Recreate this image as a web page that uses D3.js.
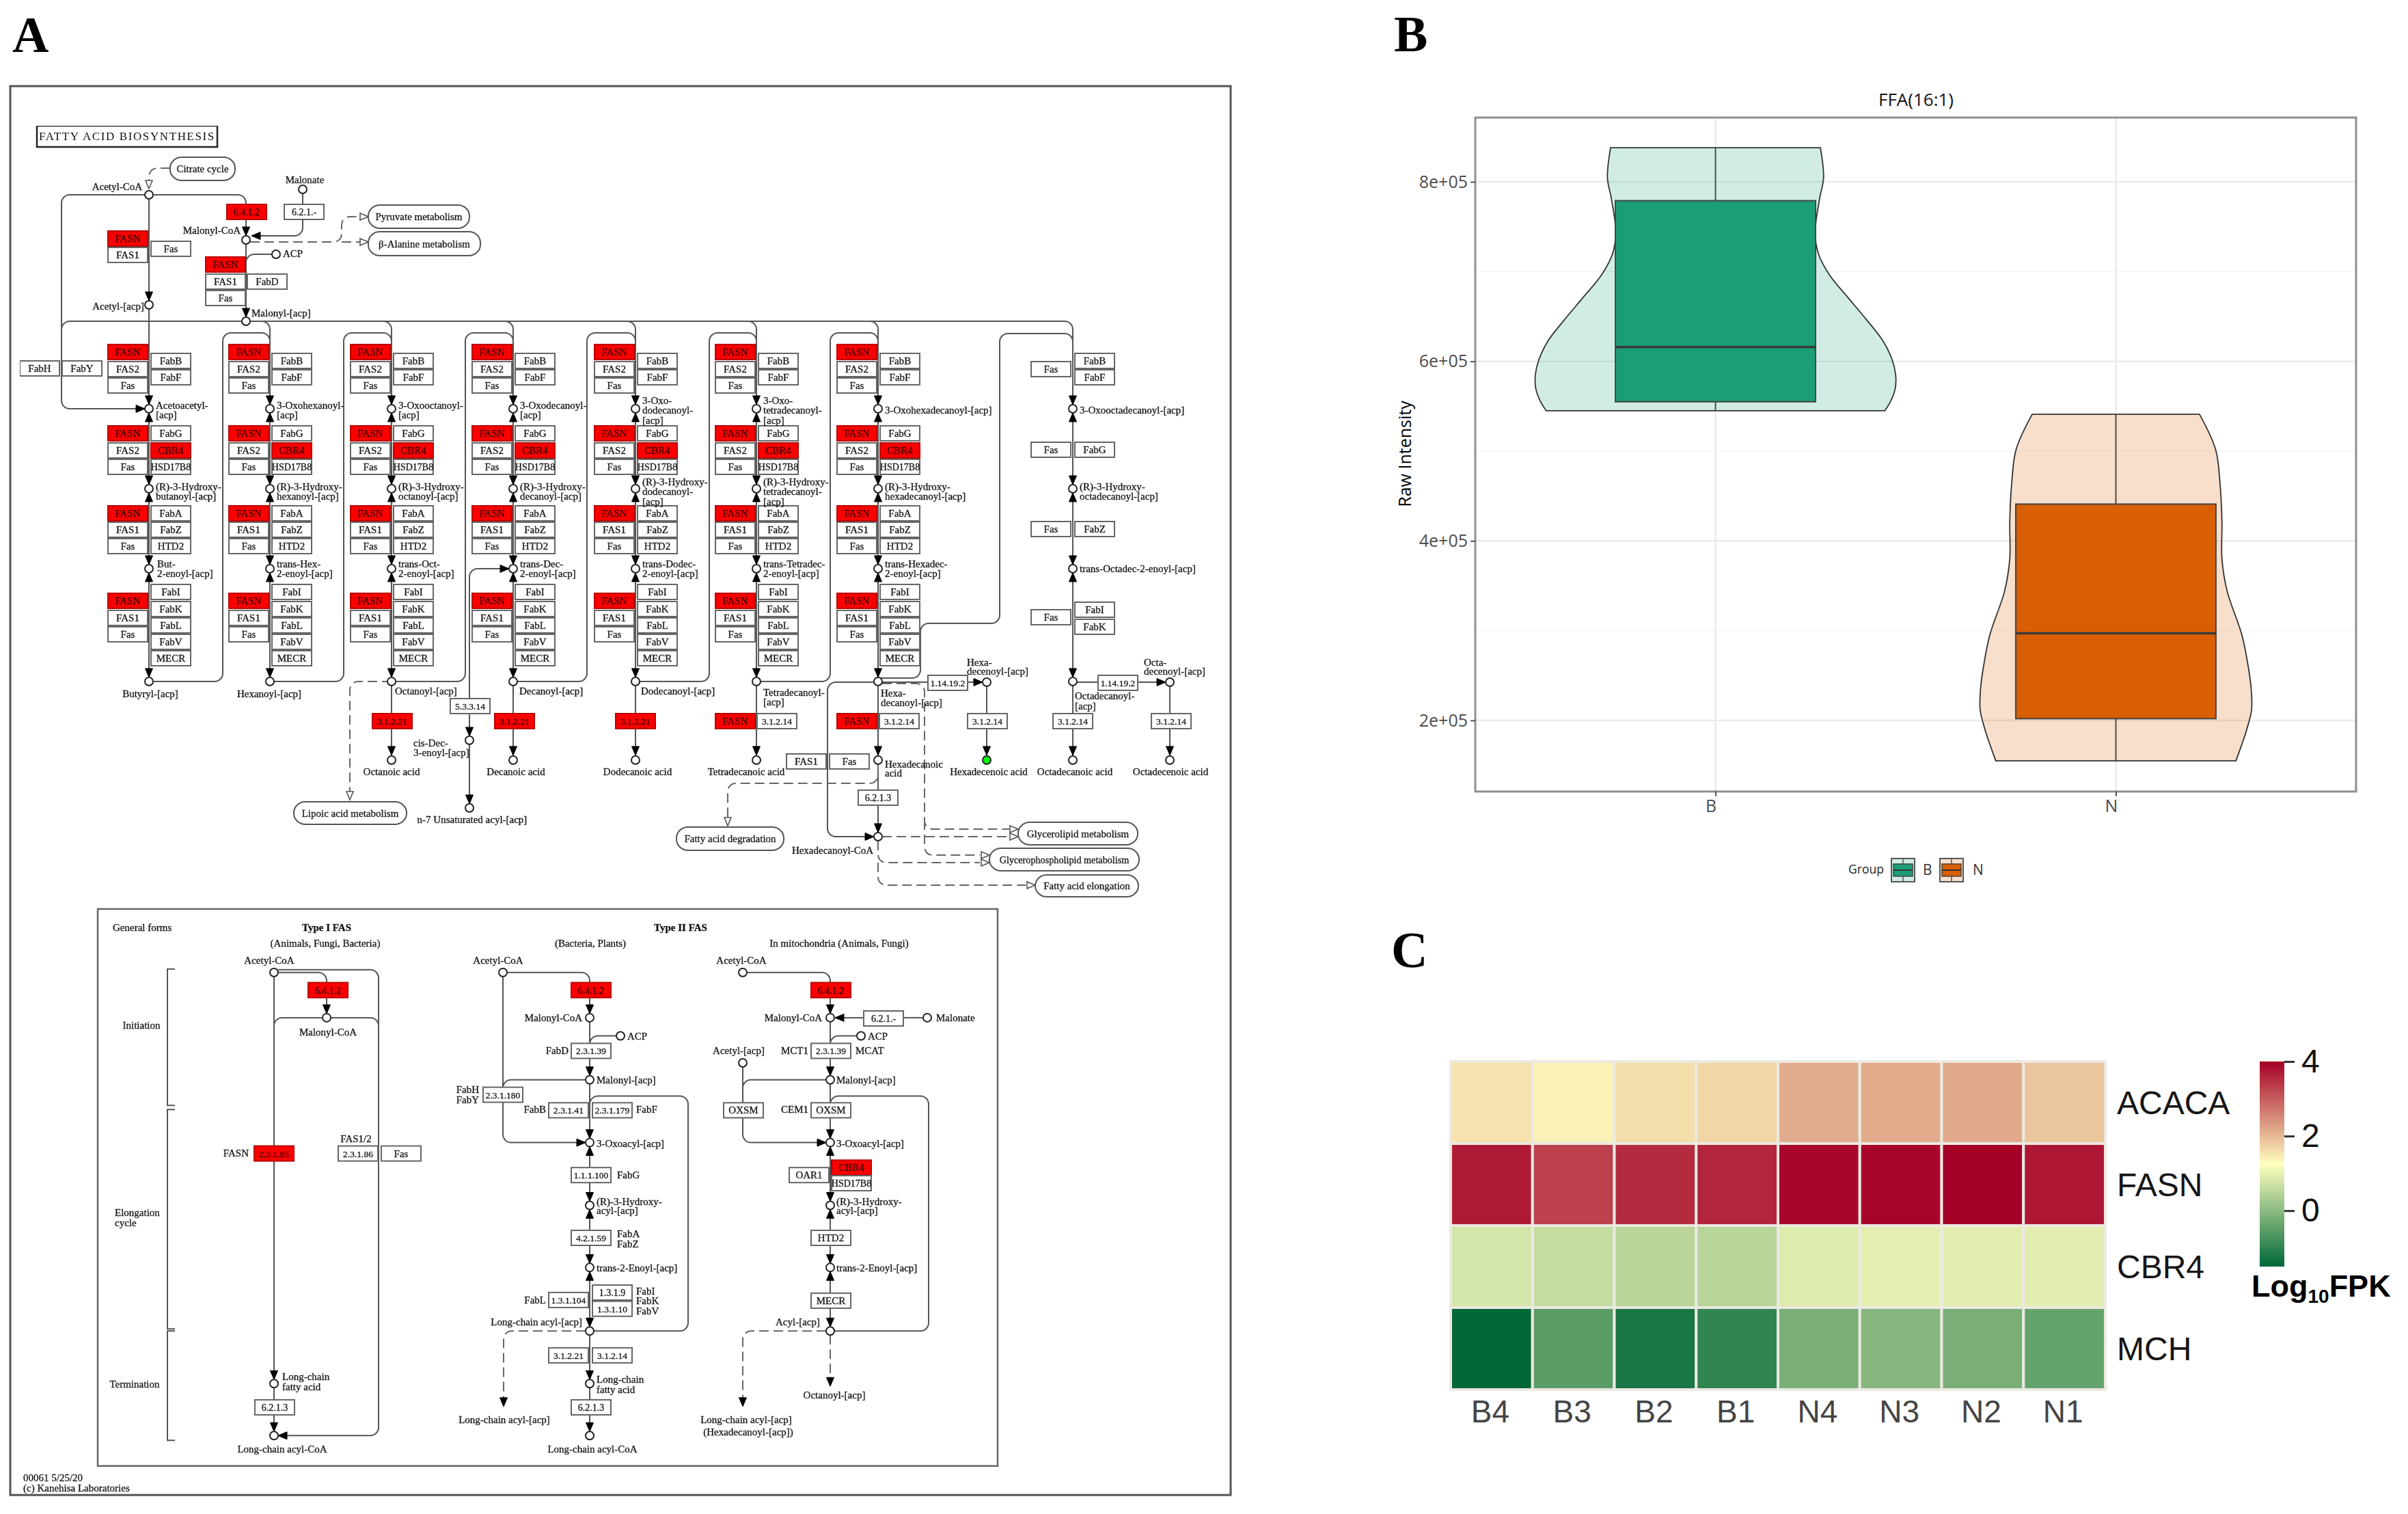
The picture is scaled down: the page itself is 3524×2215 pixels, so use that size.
<!DOCTYPE html>
<html><head><meta charset="utf-8">
<script src="https://cdn.jsdelivr.net/npm/d3@7"></script>
<style>html,body{margin:0;padding:0;background:#fff}svg{display:block}</style>
</head><body><svg id="fig" width="3524" height="2215" viewBox="0 0 3524 2215"></svg>
<script>
/* ---------- Panel C data ---------- */
const heatSamples = ["B4","B3","B2","B1","N4","N3","N2","N1"];
const heatGenes = ["ACACA","FASN","CBR4","MCH"];
const acacaValues = [1.56,1.40,1.62,1.68,2.13,2.14,2.17,1.86];
const fasnValues = [3.72,3.30,3.54,3.60,3.92,3.95,4.00,3.75];
const cbr4Values = [0.78,0.63,0.49,0.48,0.88,0.96,0.94,0.94];
const mchValues = [-1.50,-0.53,-1.22,-0.97,-0.18,-0.06,-0.20,-0.43];
const heatTicks = [0,2,4];

/* ---------- Panel B data ---------- */
const groups = ["B","N"];
const groupColors = ["#1b9e77","#d95f02"];
const intensityTicks = [2e5,4e5,6e5,8e5];
const intensityMinor = [3e5,5e5,7e5];
const violinB = [[8.38,.262],[8.05,.270],[7.81,.260],[7.44,.249],[7.20,.257],[6.96,.285],[6.71,.331],[6.47,.376],[6.23,.418],[6.02,.441],[5.85,.450],[5.70,.449],[5.56,.438],[5.45,.423]];
const violinN = [[5.41,.209],[5.02,.249],[4.65,.260],[4.22,.265],[3.80,.265],[3.44,.278],[2.95,.315],[2.59,.331],[2.35,.338],[2.12,.339],[1.90,.327],[1.70,.312],[1.55,.300]];
const boxStats = [{lo:5.45,q1:5.55,med:6.16,q3:7.79,hi:8.38},{lo:1.55,q1:2.02,med:2.97,q3:4.41,hi:5.41}];

/* ---------- Panel A data (pathway map units) ---------- */
const spines = [218,395,573,751,930,1107,1285];
const lastSpine = 1570;
const condL = [["FASN",504,1],["FAS2",529],["Fas",553]];
const condR = [["FabB",517],["FabF",541]];
const redL = [["FASN",623,1],["FAS2",648],["Fas",672]];
const redR = [["FabG",623],["CBR4",648,1],["HSD17B8",672]];
const dehL = [["FASN",740,1],["FAS1",764],["Fas",788]];
const dehR = [["FabA",740],["FabZ",764],["HTD2",788]];
const enoL = [["FASN",868,1],["FAS1",893],["Fas",917]];
const enoR = [["FabI",855],["FabK",880],["FabL",904],["FabV",928],["MECR",952]];
const oxoNames = [["Acetoacetyl-","[acp]"],["3-Oxohexanoyl-","[acp]"],["3-Oxooctanoyl-","[acp]"],["3-Oxodecanoyl-","[acp]"],["3-Oxo-","dodecanoyl-","[acp]"],["3-Oxo-","tetradecanoyl-","[acp]"],["3-Oxohexadecanoyl-[acp]"],["3-Oxooctadecanoyl-[acp]"]];
const hydNames = [["(R)-3-Hydroxy-","butanoyl-[acp]"],["(R)-3-Hydroxy-","hexanoyl-[acp]"],["(R)-3-Hydroxy-","octanoyl-[acp]"],["(R)-3-Hydroxy-","decanoyl-[acp]"],["(R)-3-Hydroxy-","dodecanoyl-","[acp]"],["(R)-3-Hydroxy-","tetradecanoyl-","[acp]"],["(R)-3-Hydroxy-","hexadecanoyl-[acp]"],["(R)-3-Hydroxy-","octadecanoyl-[acp]"]];
const enoNames = [["But-","2-enoyl-[acp]"],["trans-Hex-","2-enoyl-[acp]"],["trans-Oct-","2-enoyl-[acp]"],["trans-Dec-","2-enoyl-[acp]"],["trans-Dodec-","2-enoyl-[acp]"],["trans-Tetradec-","2-enoyl-[acp]"],["trans-Hexadec-","2-enoyl-[acp]"],["trans-Octadec-2-enoyl-[acp]"]];
const oxoY=598, hydY=715, enoY=832, acylY=997;

/* free-standing enzyme boxes: label, left, top, red */
const enzymes = [
 ["6.4.1.2",332,299,1],["6.2.1.-",416,299],
 ["FASN",158,338,1],["FAS1",158,362],["Fas",221,353],
 ["FASN",301,376,1],["FAS1",301,401],["FabD",362,401],["Fas",301,425],
 ["FabH",29,528],["FabY",91,528],
 ["Fas",1509,529],["FabB",1573,517],["FabF",1573,541],
 ["Fas",1509,647],["FabG",1573,647],
 ["Fas",1509,763],["FabZ",1573,763],
 ["Fas",1509,892],["FabI",1573,881],["FabK",1573,906],
 ["3.1.2.21",545,1044,1],["3.1.2.21",724,1044,1],["3.1.2.21",901,1044,1],
 ["5.3.3.14",659,1022],
 ["FASN",1047,1044,1],["3.1.2.14",1108,1044],["FASN",1225,1044,1],["3.1.2.14",1287,1044],
 ["1.14.19.2",1358,988],["1.14.19.2",1607,988],
 ["3.1.2.14",1416,1044],["3.1.2.14",1541,1044],["3.1.2.14",1685,1044],
 ["FAS1",1151,1103],["Fas",1214,1103],["6.2.1.3",1256,1156],
 // general forms
 ["6.4.1.2",451,1439,1],["2.3.1.85",372,1681,1],["2.3.1.86",495,1681],["Fas",558,1681],["6.2.1.3",373,2057],
 ["6.4.1.2",836,1439,1],["2.3.1.39",836,1529],["2.3.1.180",707,1594],["2.3.1.41",803,1617],["2.3.1.179",867,1617],
 ["1.1.1.100",836,1713],["4.2.1.59",836,1806],["1.3.1.9",867,1887],["1.3.1.10",867,1911],["1.3.1.104",803,1898],
 ["3.1.2.21",803,1980],["3.1.2.14",867,1980],["6.2.1.3",836,2057],
 ["6.4.1.2",1187,1439,1],["6.2.1.-",1264,1481],["2.3.1.39",1187,1529],["OXSM",1059,1617],["OXSM",1187,1617],
 ["OAR1",1155,1713],["CBR4",1217,1702,1],["HSD17B8",1217,1725],["HTD2",1187,1806],["MECR",1187,1899]
];
/* pathway links: rounded polylines in map units */
const solidLinks = [
 [[218,285],[90,285],[90,598],[212,598]],[[218,285],[218,440]],[[218,285],[360,285],[360,299]],
 [[360,321],[360,345]],[[443,283],[443,299]],[[443,321],[443,345],[368,345]],[[360,357],[360,464]],
 [[398,372],[360,372],[360,385]],[[218,452],[218,991]],
 [[90,510],[90,470],[1570,470],[1570,1105]],
 [[1285,992],[1347,992],[1347,912],[1463,912],[1463,488],[1570,488],[1570,510]],
 [[1285,998],[1211,998],[1211,1224],[1279,1224]],[[1285,998],[1358,998]],[[1416,998],[1438,998]],[[1444,998],[1444,1105]],
 [[1570,998],[1607,998]],[[1666,998],[1706,998]],[[1712,998],[1712,1105]],
 [[745,832],[687,832],[687,1077]],[[687,1089],[687,1176]],[[1285,1118],[1285,1218]],
 // Type I
 [[401,1424],[401,2027]],[[407,1424],[478,1424],[478,1439]],[[478,1462],[478,1485]],
 [[407,1420],[554,1420],[554,2110],[407,2110]],[[401,1530],[401,1491],[554,1491],[554,1530]],[[401,2039],[401,2104]],
 // Type II bacteria
 [[742,1424],[863,1424],[863,1439]],[[863,1462],[863,2104]],[[736,1424],[736,1676],[857,1676]],
 [[902,1518],[863,1518],[863,1530]],[[857,1583],[736,1583],[736,1600]],
 [[863,1955],[1007,1955],[1007,1607],[863,1607],[863,1625]],
 // mitochondria
 [[1093,1424],[1215,1424],[1215,1439]],[[1215,1462],[1215,1955]],[[1264,1491],[1222,1491]],[[1322,1491],[1351,1491]],
 [[1254,1518],[1215,1518],[1215,1530]],[[1209,1583],[1087,1583],[1087,1600]],[[1087,1564],[1087,1676],[1209,1676]],
 [[1215,1955],[1359,1955],[1359,1607],[1215,1607],[1215,1625]]
];
const dashedLinks = [
 [[249,246],[218,246],[218,266]],[[366,354],[500,354],[500,317],[527,317]],[[500,354],[527,354]],
 [[573,997],[512,997],[512,1158]],[[1285,1118],[1285,1146],[1065,1146],[1065,1196]],
 [[1291,1000],[1353,1000],[1353,1213],[1477,1213]],[[1353,1200],[1353,1251],[1434,1251]],
 [[1291,1224],[1477,1224]],[[1285,1230],[1285,1262],[1434,1262]],[[1285,1262],[1285,1295],[1501,1295]],
 [[857,1955],[737,1955],[737,2055]],[[1209,1955],[1087,1955],[1087,2055]],[[1215,1961],[1215,2025]]
];
/* arrowheads: tip x, tip y, direction, hollow */
const arrows = [
 [218,440,"d"],[360,345,"d"],[368,345,"l"],[360,464,"d"],[212,598,"r"],[218,276,"d",1],
 [539,317,"r",1],[539,354,"r",1],[512,1170,"d",1],[1065,1208,"d",1],
 [745,832,"r"],[687,1077,"d"],[687,1176,"d"],[1438,998,"r"],[1706,998,"r"],
 [1444,1105,"d"],[1570,1105,"d"],[1712,1105,"d"],[1285,1218,"d"],[1279,1224,"r"],
 [1490,1213,"r",1],[1490,1224,"r",1],[1448,1251,"r",1],[1448,1262,"r",1],[1515,1295,"r",1],
 [478,1485,"d"],[401,2027,"d"],[401,2104,"d"],[407,2110,"l"],
 [863,1485,"d"],[863,1577,"d"],[863,1670,"d"],[857,1676,"r"],[863,1682,"u"],[863,1763,"d"],[863,1775,"u"],[863,1855,"d"],[863,1867,"u"],[863,1949,"d"],[863,2027,"d"],[863,2104,"d"],[737,2067,"d"],
 [1215,1485,"d"],[1222,1491,"l"],[1215,1577,"d"],[1215,1670,"d"],[1209,1676,"r"],[1215,1682,"u"],[1215,1763,"d"],[1215,1775,"u"],[1215,1855,"d"],[1215,1867,"u"],[1215,1949,"d"],[1087,2067,"d"],[1215,2037,"d"]
];
/* metabolite dots */
const dots = [[218,285],[218,446],[360,351],[360,470],[443,277],[404,372],[687,1083],[687,1182],
 [573,1112],[751,1112],[930,1112],[1107,1112],[1285,1112],[1570,1112],[1712,1112],[1285,1224],[1712,998],[1444,998],
 [401,1424],[478,1491],[401,2033],[401,2110],
 [736,1424],[863,1491],[908,1518],[863,1583],[863,1676],[863,1769],[863,1861],[863,1955],[863,2033],[863,2110],
 [1087,1424],[1215,1491],[1260,1518],[1357,1491],[1087,1558],[1215,1583],[1215,1676],[1215,1769],[1215,1861],[1215,1955]];
const greenDots = [[1444,1112]];
/* outgoing pathway pills: label, left, top, right, bottom */
const pills = [["Citrate cycle",249,230,344,264],["Pyruvate metabolism",539,300,687,334],["β-Alanine metabolism",539,339,703,374],
 ["Lipoic acid metabolism",430,1173,595,1206],["Fatty acid degradation",990,1210,1147,1244],["Glycerolipid metabolism",1490,1203,1665,1236],
 ["Glycerophospholipid metabolism",1448,1241,1667,1274],["Fatty acid elongation",1515,1280,1666,1312]];
/* free text: label, x, y, anchor */
const notes = [
 ["Acetyl-CoA",208,273,"end"],["Malonate",446,263,"middle"],["Malonyl-CoA",352,337,"end"],["ACP",414,371,"start"],["Acetyl-[acp]",211,448,"end"],["Malonyl-[acp]",368,458,"start"],
 ["Butyryl-[acp]",220,1015,"middle"],["Hexanoyl-[acp]",394,1015,"middle"],["Octanoyl-[acp]",578,1011,"start"],["Decanoyl-[acp]",760,1011,"start"],["Dodecanoyl-[acp]",938,1011,"start"],
 ["Tetradecanoyl-",1117,1013,"start"],["[acp]",1117,1027,"start"],["Hexa-",1289,1014,"start"],["decanoyl-[acp]",1289,1028,"start"],
 ["Hexa-",1415,969,"start"],["decenoyl-[acp]",1415,982,"start"],["Octa-",1674,969,"start"],["decenoyl-[acp]",1674,982,"start"],["Octadecanoyl-",1573,1018,"start"],["[acp]",1573,1033,"start"],
 ["cis-Dec-",605,1087,"start"],["3-enoyl-[acp]",605,1101,"start"],["n-7 Unsaturated acyl-[acp]",691,1199,"middle"],
 ["Octanoic acid",573,1129,"middle"],["Decanoic acid",755,1129,"middle"],["Dodecanoic acid",933,1129,"middle"],["Tetradecanoic acid",1092,1129,"middle"],
 ["Hexadecenoic acid",1447,1129,"middle"],["Octadecanoic acid",1573,1129,"middle"],["Octadecenoic acid",1713,1129,"middle"],
 ["Hexadecanoic",1295,1118,"start"],["acid",1295,1131,"start"],["Hexadecanoyl-CoA",1278,1244,"end"],
 ["General forms",165,1357,"start"],["(Animals, Fungi, Bacteria)",476,1381,"middle"],["(Bacteria, Plants)",864,1381,"middle"],["In mitochondria (Animals, Fungi)",1228,1381,"middle"],
 ["Acetyl-CoA",394,1406,"middle"],["Malonyl-CoA",480,1512,"middle"],["FASN",364,1692,"end"],["FAS1/2",521,1670,"middle"],["Long-chain",413,2023,"start"],["fatty acid",413,2038,"start"],["Long-chain acyl-CoA",413,2130,"middle"],
 ["Initiation",207,1502,"middle"],["Elongation",168,1780,"start"],["cycle",168,1795,"start"],["Termination",197,2034,"middle"],
 ["Acetyl-CoA",729,1406,"middle"],["Malonyl-CoA",852,1491,"end"],["ACP",918,1518,"start"],["FabD",832,1540,"end"],["Malonyl-[acp]",873,1583,"start"],["FabH",701,1597,"end"],["FabY",701,1613,"end"],["FabB",799,1627,"end"],["FabF",931,1627,"start"],
 ["3-Oxoacyl-[acp]",873,1677,"start"],["FabG",903,1724,"start"],["(R)-3-Hydroxy-",873,1763,"start"],["acyl-[acp]",873,1777,"start"],["FabA",903,1811,"start"],["FabZ",903,1826,"start"],["trans-2-Enoyl-[acp]",873,1862,"start"],
 ["FabL",799,1909,"end"],["FabI",931,1896,"start"],["FabK",931,1910,"start"],["FabV",931,1925,"start"],["Long-chain acyl-[acp]",852,1942,"end"],["Long-chain",873,2027,"start"],["fatty acid",873,2042,"start"],["Long-chain acyl-[acp]",738,2086,"middle"],["Long-chain acyl-CoA",867,2130,"middle"],
 ["Acetyl-CoA",1085,1406,"middle"],["Malonyl-CoA",1203,1491,"end"],["Malonate",1370,1491,"start"],["ACP",1270,1518,"start"],["Acetyl-[acp]",1081,1540,"middle"],["MCT1",1183,1540,"end"],["MCAT",1252,1540,"start"],["Malonyl-[acp]",1224,1583,"start"],["CEM1",1183,1627,"end"],
 ["3-Oxoacyl-[acp]",1224,1677,"start"],["(R)-3-Hydroxy-",1224,1763,"start"],["acyl-[acp]",1224,1777,"start"],["trans-2-Enoyl-[acp]",1224,1862,"start"],["Acyl-[acp]",1200,1942,"end"],["Octanoyl-[acp]",1221,2050,"middle"],["Long-chain acyl-[acp]",1092,2086,"middle"],["(Hexadecanoyl-[acp])",1095,2105,"middle"],
 ["00061 5/25/20",34,2172,"start"],["(c) Kanehisa Laboratories",34,2188,"start"]
];
const boldNotes = [["Type I FAS",478,1357],["Type II FAS",996,1357]];
const brackets = [[1419,1621],[1627,1952],[1955,2117]];

/* ---------- Drawing ---------- */
const svg = d3.select("#fig");
const SERIF = "'Liberation Serif', serif", SANS = "'Liberation Sans', Arial, sans-serif", OPEN = "'Open Sans', sans-serif";
const defs = svg.append("defs");
defs.append("filter").attr("id","soft").attr("x",0).attr("y",0).attr("width",1).attr("height",1)
  .append("feGaussianBlur").attr("stdDeviation",0.7);

[["A",18,76],["B",2040,75],["C",2036,1415]].forEach(([t,x,y])=>svg.append("text").text(t).attr("x",x).attr("y",y)
  .attr("font-family",SERIF).attr("font-weight","bold").attr("font-size",74).attr("fill","#000"));

/* ===== Panel A ===== */
const mx = d3.scaleLinear().domain([0,3524]).range([0,3524]);
/* the lower map sits slightly tighter vertically than the upper one */
const my = d3.scaleLinear().domain([0,1320,2215]).range([0,1320,2204]);
svg.append("rect").attr("x",mx(15)).attr("y",my(126)).attr("width",mx(1801)-mx(15)).attr("height",my(2198)-my(126))
  .attr("fill","#fff").attr("stroke","#555").attr("stroke-width",3);
const A = svg.append("g").attr("filter","url(#soft)");
const BW=58, BH=22;
function rounded(pts,r=12){
  const p=d3.path(); const P=pts.map(d=>[mx(d[0]),my(d[1])]);
  p.moveTo(P[0][0],P[0][1]);
  for(let i=1;i<P.length-1;i++) p.arcTo(P[i][0],P[i][1],P[i+1][0],P[i+1][1],r);
  p.lineTo(P[P.length-1][0],P[P.length-1][1]);
  return p.toString();
}
function link(pts,dashed,r){
  A.append("path").attr("d",rounded(pts,r)).attr("fill","none").attr("stroke",dashed?"#666":"#555")
   .attr("stroke-width",2).attr("stroke-dasharray",dashed?"14 7":null);
}
function box(name,x,y,red,w=BW,h=BH){
  A.append("rect").attr("x",mx(x)).attr("y",my(y)).attr("width",w).attr("height",h)
   .attr("fill",red?"#fb0000":"#fff").attr("stroke",red?"#b00":"#666").attr("stroke-width",2);
  A.append("text").text(name).attr("x",mx(x)+w/2).attr("y",my(y)+h/2+5).attr("text-anchor","middle")
   .attr("font-family",SERIF).attr("font-size",name.length>=8?13.5:(name.length>6?14:15)).attr("fill",red?"#400":"#111")
   .attr("stroke",red?"#400":"#222").attr("stroke-width",0.3);
}
function label(t,x,y,anchor="start",bold){
  A.append("text").text(t).attr("x",mx(x)).attr("y",my(y)+5).attr("text-anchor",anchor)
   .attr("font-family",SERIF).attr("font-size",15).attr("font-weight",bold?"bold":null).attr("fill","#111")
   .attr("stroke","#222").attr("stroke-width",0.3);
}
function arrow([x,y,dir,hollow]){
  const l=hollow?12:13, w=hollow?5:5.5, X=mx(x), Y=my(y);
  const pts={d:[[X,Y],[X-w,Y-l],[X+w,Y-l]],u:[[X,Y],[X-w,Y+l],[X+w,Y+l]],r:[[X,Y],[X-l,Y-w],[X-l,Y+w]],l:[[X,Y],[X+l,Y-w],[X+l,Y+w]]}[dir];
  A.append("polygon").attr("points",pts.join(" ")).attr("fill",hollow?"#fff":"#000").attr("stroke",hollow?"#555":"#000").attr("stroke-width",hollow?1.6:1);
}
function dot(x,y,fill="#fff"){
  A.append("circle").attr("cx",mx(x)).attr("cy",my(y)).attr("r",6).attr("fill",fill).attr("stroke","#222").attr("stroke-width",2);
}

A.append("rect").attr("x",mx(54)).attr("y",my(184)).attr("width",264).attr("height",31).attr("fill","#fff").attr("stroke","#222").attr("stroke-width",2.5);
A.append("text").text("FATTY ACID BIOSYNTHESIS").attr("x",mx(186)).attr("y",my(205)).attr("text-anchor","middle")
  .attr("font-family",SERIF).attr("font-size",17).attr("letter-spacing",1.6).attr("fill","#111");

solidLinks.forEach(p=>link(p,false));
dashedLinks.forEach(p=>link(p,true));

spines.forEach((s,i)=>{
  if(i>0){
    const end = i<2 ? acylY-6 : (i==6 ? acylY : 1105);
    link([[s-12,470],[s,470],[s,end]],false);
  }
  if(i<6){ const n=spines[i+1]; link([[s,acylY],[s+108,acylY],[s+108,487],[n,487],[n,510]],false); }
});
link([[1285,998],[1285,1105]],false);
[...spines,lastSpine].forEach((s,i)=>{
  arrow([s,oxoY-6,"d"]); arrow([s,oxoY+6,"u"]); arrow([s,hydY-6,"d"]); arrow([s,hydY+6,"u"]);
  arrow([s,enoY-6,"d"]); arrow([s,enoY+6,"u"]); arrow([s,acylY-6,"d"]);
  if(i>=2&&i<7) arrow([s,1105,"d"]);
  if(i<7){
    [...condL,...redL,...dehL,...enoL].forEach(b=>box(b[0],s-60,b[1],b[2]));
    [...condR,...redR,...dehR,...enoR].forEach(b=>box(b[0],s+3,b[1],b[2]));
  }
  dot(s,oxoY);dot(s,hydY);dot(s,enoY);dot(s,acylY);
  const stack=(names,cy)=>names[i].forEach((t,k)=>label(t,s+(i==0&&names===enoNames?12:10),cy+(k-(names[i].length-1)/2)*14.5));
  stack(oxoNames,oxoY+2); stack(hydNames,hydY+4); stack(enoNames,enoY);
});
enzymes.forEach(e=>box(e[0],e[1],e[2],e[3]));
arrows.forEach(arrow);
dots.forEach(d=>dot(d[0],d[1]));
greenDots.forEach(d=>dot(d[0],d[1],"#0f0"));
pills.forEach(([t,x0,y0,x1,y1])=>{
  A.append("rect").attr("x",mx(x0)).attr("y",my(y0)).attr("width",x1-x0).attr("height",y1-y0).attr("rx",17).attr("ry",16)
   .attr("fill","#fff").attr("stroke","#555").attr("stroke-width",2);
  A.append("text").text(t).attr("x",mx((x0+x1)/2)).attr("y",my((y0+y1)/2)+5).attr("text-anchor","middle")
   .attr("font-family",SERIF).attr("font-size",t.length>25?14.2:15).attr("fill","#111").attr("stroke","#222").attr("stroke-width",0.3);
});
notes.forEach(n=>label(n[0],n[1],n[2],n[3]));
boldNotes.forEach(n=>label(n[0],n[1],n[2],"middle",true));
A.append("rect").attr("x",mx(143)).attr("y",my(1330)).attr("width",mx(1460)-mx(143)).attr("height",my(2155)-my(1330))
  .attr("fill","none").attr("stroke","#666").attr("stroke-width",2.5);
brackets.forEach(([a,b])=>A.append("path").attr("d",`M${mx(256)},${my(a)}H${mx(245)}V${my(b)}H${mx(256)}`)
  .attr("fill","none").attr("stroke","#555").attr("stroke-width",2));

/* ===== Panel B ===== */
const bL=2159,bR=3448,bT=172,bB=1158;
const x = d3.scaleLinear().domain([0.4,2.6]).range([bL,bR]);
const yB = d3.scaleLinear().domain([2e5,8e5]).range([1054,266]);
const widthPx = d3.scaleLinear().domain([0,1]).range([0,x(2)-x(1)]);
const B = svg.append("g");
B.append("rect").attr("x",bL).attr("y",bT).attr("width",bR-bL).attr("height",bB-bT).attr("fill","#fff");
B.selectAll(".minor").data(intensityMinor).join("line").attr("x1",bL).attr("x2",bR).attr("y1",d=>yB(d)).attr("y2",d=>yB(d)).attr("stroke","#f6f6f6").attr("stroke-width",1.5);
B.selectAll(".major").data(intensityTicks).join("line").attr("x1",bL).attr("x2",bR).attr("y1",d=>yB(d)).attr("y2",d=>yB(d)).attr("stroke","#ebebeb").attr("stroke-width",2.5);
B.selectAll(".vmajor").data([1,2]).join("line").attr("y1",bT).attr("y2",bB).attr("x1",d=>x(d)).attr("x2",d=>x(d)).attr("stroke","#ebebeb").attr("stroke-width",2.5);
const violinLine = d3.line().curve(d3.curveCatmullRom.alpha(0.5));
[violinB,violinN].forEach((v,i)=>{
  const cx=x(i+1);
  const right=v.map(d=>[cx+widthPx(d[1]),yB(d[0]*1e5)]);
  const left=v.slice().reverse().map(d=>[cx-widthPx(d[1]),yB(d[0]*1e5)]);
  B.append("path").attr("d",violinLine(right)+"L"+violinLine(left).slice(1)+"Z")
   .attr("fill",groupColors[i]).attr("fill-opacity",0.2).attr("stroke","none");
  B.append("path").attr("d",violinLine(right)+"L"+violinLine(left).slice(1)+"Z")
   .attr("fill","none").attr("stroke","#333").attr("stroke-width",1.8);
  const s=boxStats[i], hw=widthPx(0.25);
  B.append("line").attr("x1",cx).attr("x2",cx).attr("y1",yB(s.lo*1e5)).attr("y2",yB(s.hi*1e5)).attr("stroke","#444").attr("stroke-width",1.8);
  B.append("rect").attr("x",cx-hw).attr("width",2*hw).attr("y",yB(s.q3*1e5)).attr("height",yB(s.q1*1e5)-yB(s.q3*1e5))
   .attr("fill",groupColors[i]).attr("stroke","#444").attr("stroke-width",2);
  B.append("line").attr("x1",cx-hw).attr("x2",cx+hw).attr("y1",yB(s.med*1e5)).attr("y2",yB(s.med*1e5)).attr("stroke","#3a3a3a").attr("stroke-width",3.5);
});
B.append("rect").attr("x",bL).attr("y",bT).attr("width",bR-bL).attr("height",bB-bT).attr("fill","none").attr("stroke","#8f8f8f").attr("stroke-width",3);
const fmtE = d=>d3.format(".0e")(d).replace(/e\+(\d)$/,"e+0$1");
const axL = B.append("g").attr("transform",`translate(${bL},0)`).call(d3.axisLeft(yB).tickValues(intensityTicks).tickFormat(fmtE).tickSize(7).tickPadding(4));
axL.select(".domain").remove();
axL.selectAll("line").attr("stroke","#444").attr("stroke-width",1.8);
axL.selectAll("text").attr("font-family",OPEN).attr("font-size",25).attr("fill","#4d4d4d");
const axB = B.append("g").attr("transform",`translate(0,${bB})`).call(d3.axisBottom(x).tickValues([1,2]).tickFormat(d=>groups[d-1]).tickSize(7).tickPadding(5));
axB.select(".domain").remove();
axB.selectAll("line").attr("stroke","#444").attr("stroke-width",1.8);
axB.selectAll("text").attr("font-family",OPEN).attr("font-size",25).attr("fill","#4d4d4d").attr("dx",-7);
B.append("text").text("FFA(16:1)").attr("x",2804).attr("y",155).attr("text-anchor","middle").attr("font-family",OPEN).attr("font-size",26).attr("fill","#111");
B.append("text").text("Raw Intensity").attr("transform","translate(2065,664) rotate(-90)").attr("text-anchor","middle").attr("font-family",OPEN).attr("font-size",25).attr("fill","#000");
B.append("text").text("Group").attr("x",2705).attr("y",1278).attr("font-family",OPEN).attr("font-size",17.5).attr("fill","#222");
groups.forEach((g,i)=>{
  const kx=[2768,2839][i], ky=1256, kw=34, kh=34;
  B.append("rect").attr("x",kx).attr("y",ky).attr("width",kw).attr("height",kh).attr("fill",groupColors[i]).attr("fill-opacity",.2).attr("stroke","#555").attr("stroke-width",2);
  B.append("line").attr("x1",kx+kw/2).attr("x2",kx+kw/2).attr("y1",ky).attr("y2",ky+kh).attr("stroke","#555").attr("stroke-width",1.5);
  B.append("rect").attr("x",kx+3).attr("y",ky+8).attr("width",kw-6).attr("height",kh-16).attr("fill",groupColors[i]).attr("stroke","#444").attr("stroke-width",1.5);
  B.append("line").attr("x1",kx+3).attr("x2",kx+kw-3).attr("y1",ky+kh/2).attr("y2",ky+kh/2).attr("stroke","#333").attr("stroke-width",2);
  B.append("text").text(g).attr("x",[2814,2887][i]).attr("y",1280).attr("font-family",OPEN).attr("font-size",21).attr("fill","#333");
});

/* ===== Panel C ===== */
const heatRows=[acacaValues,fasnValues,cbr4Values,mchValues];
const hx=d3.scaleBand().domain(heatSamples).range([2123,3081]);
const hy=d3.scaleBand().domain(heatGenes).range([1553,2033]);
const heatColor=d3.scaleLinear().domain([-1.5,1.25,4]).range(["#006837","#ffffbf","#a50026"]);
const C=svg.append("g");
heatGenes.forEach((g,r)=>{
  C.selectAll(null).data(heatRows[r]).join("rect")
   .attr("x",(d,i)=>hx(heatSamples[i])).attr("y",hy(g)).attr("width",hx.bandwidth()).attr("height",hy.bandwidth())
   .attr("fill",d=>heatColor(d)).attr("stroke","#ece9e2").attr("stroke-width",4);
});
C.selectAll(".col").data(heatSamples).join("text").text(d=>d).attr("x",d=>hx(d)+hx.bandwidth()/2-2).attr("y",2081).attr("text-anchor","middle")
  .attr("font-family",SANS).attr("font-size",46).attr("fill","#444");
C.selectAll(".row").data(heatGenes).join("text").text(d=>d).attr("x",3098).attr("y",d=>hy(d)+hy.bandwidth()/2+17).attr("font-family",SANS).attr("font-size",48).attr("fill","#151515");
const cbScale=d3.scaleLinear().domain([-1.5,4]).range([1853,1553]);
const grad=defs.append("linearGradient").attr("id","cb").attr("x1",0).attr("x2",0).attr("y1",1).attr("y2",0);
heatColor.domain().forEach(v=>grad.append("stop").attr("offset",(v+1.5)/5.5).attr("stop-color",heatColor(v)));
C.append("rect").attr("x",3307).attr("y",cbScale(4)).attr("width",36).attr("height",cbScale(-1.5)-cbScale(4)).attr("fill","url(#cb)");
const cbAxis=C.append("g").attr("transform","translate(3343,0)").call(d3.axisRight(cbScale).tickValues(heatTicks).tickFormat(d3.format("d")).tickSize(15).tickPadding(10));
cbAxis.select(".domain").remove();
cbAxis.selectAll("line").attr("stroke","#333").attr("stroke-width",3);
cbAxis.selectAll("text").attr("font-family",SANS).attr("font-size",48).attr("fill","#111");
const lg=C.append("text").attr("x",3295).attr("y",1897).attr("font-family",SANS).attr("font-weight","bold").attr("font-size",45).attr("fill","#000");
lg.append("tspan").text("Log");
lg.append("tspan").text("10").attr("font-size",28).attr("dy",9);
lg.append("tspan").text("FPK").attr("dy",-9);
</script></body></html>
